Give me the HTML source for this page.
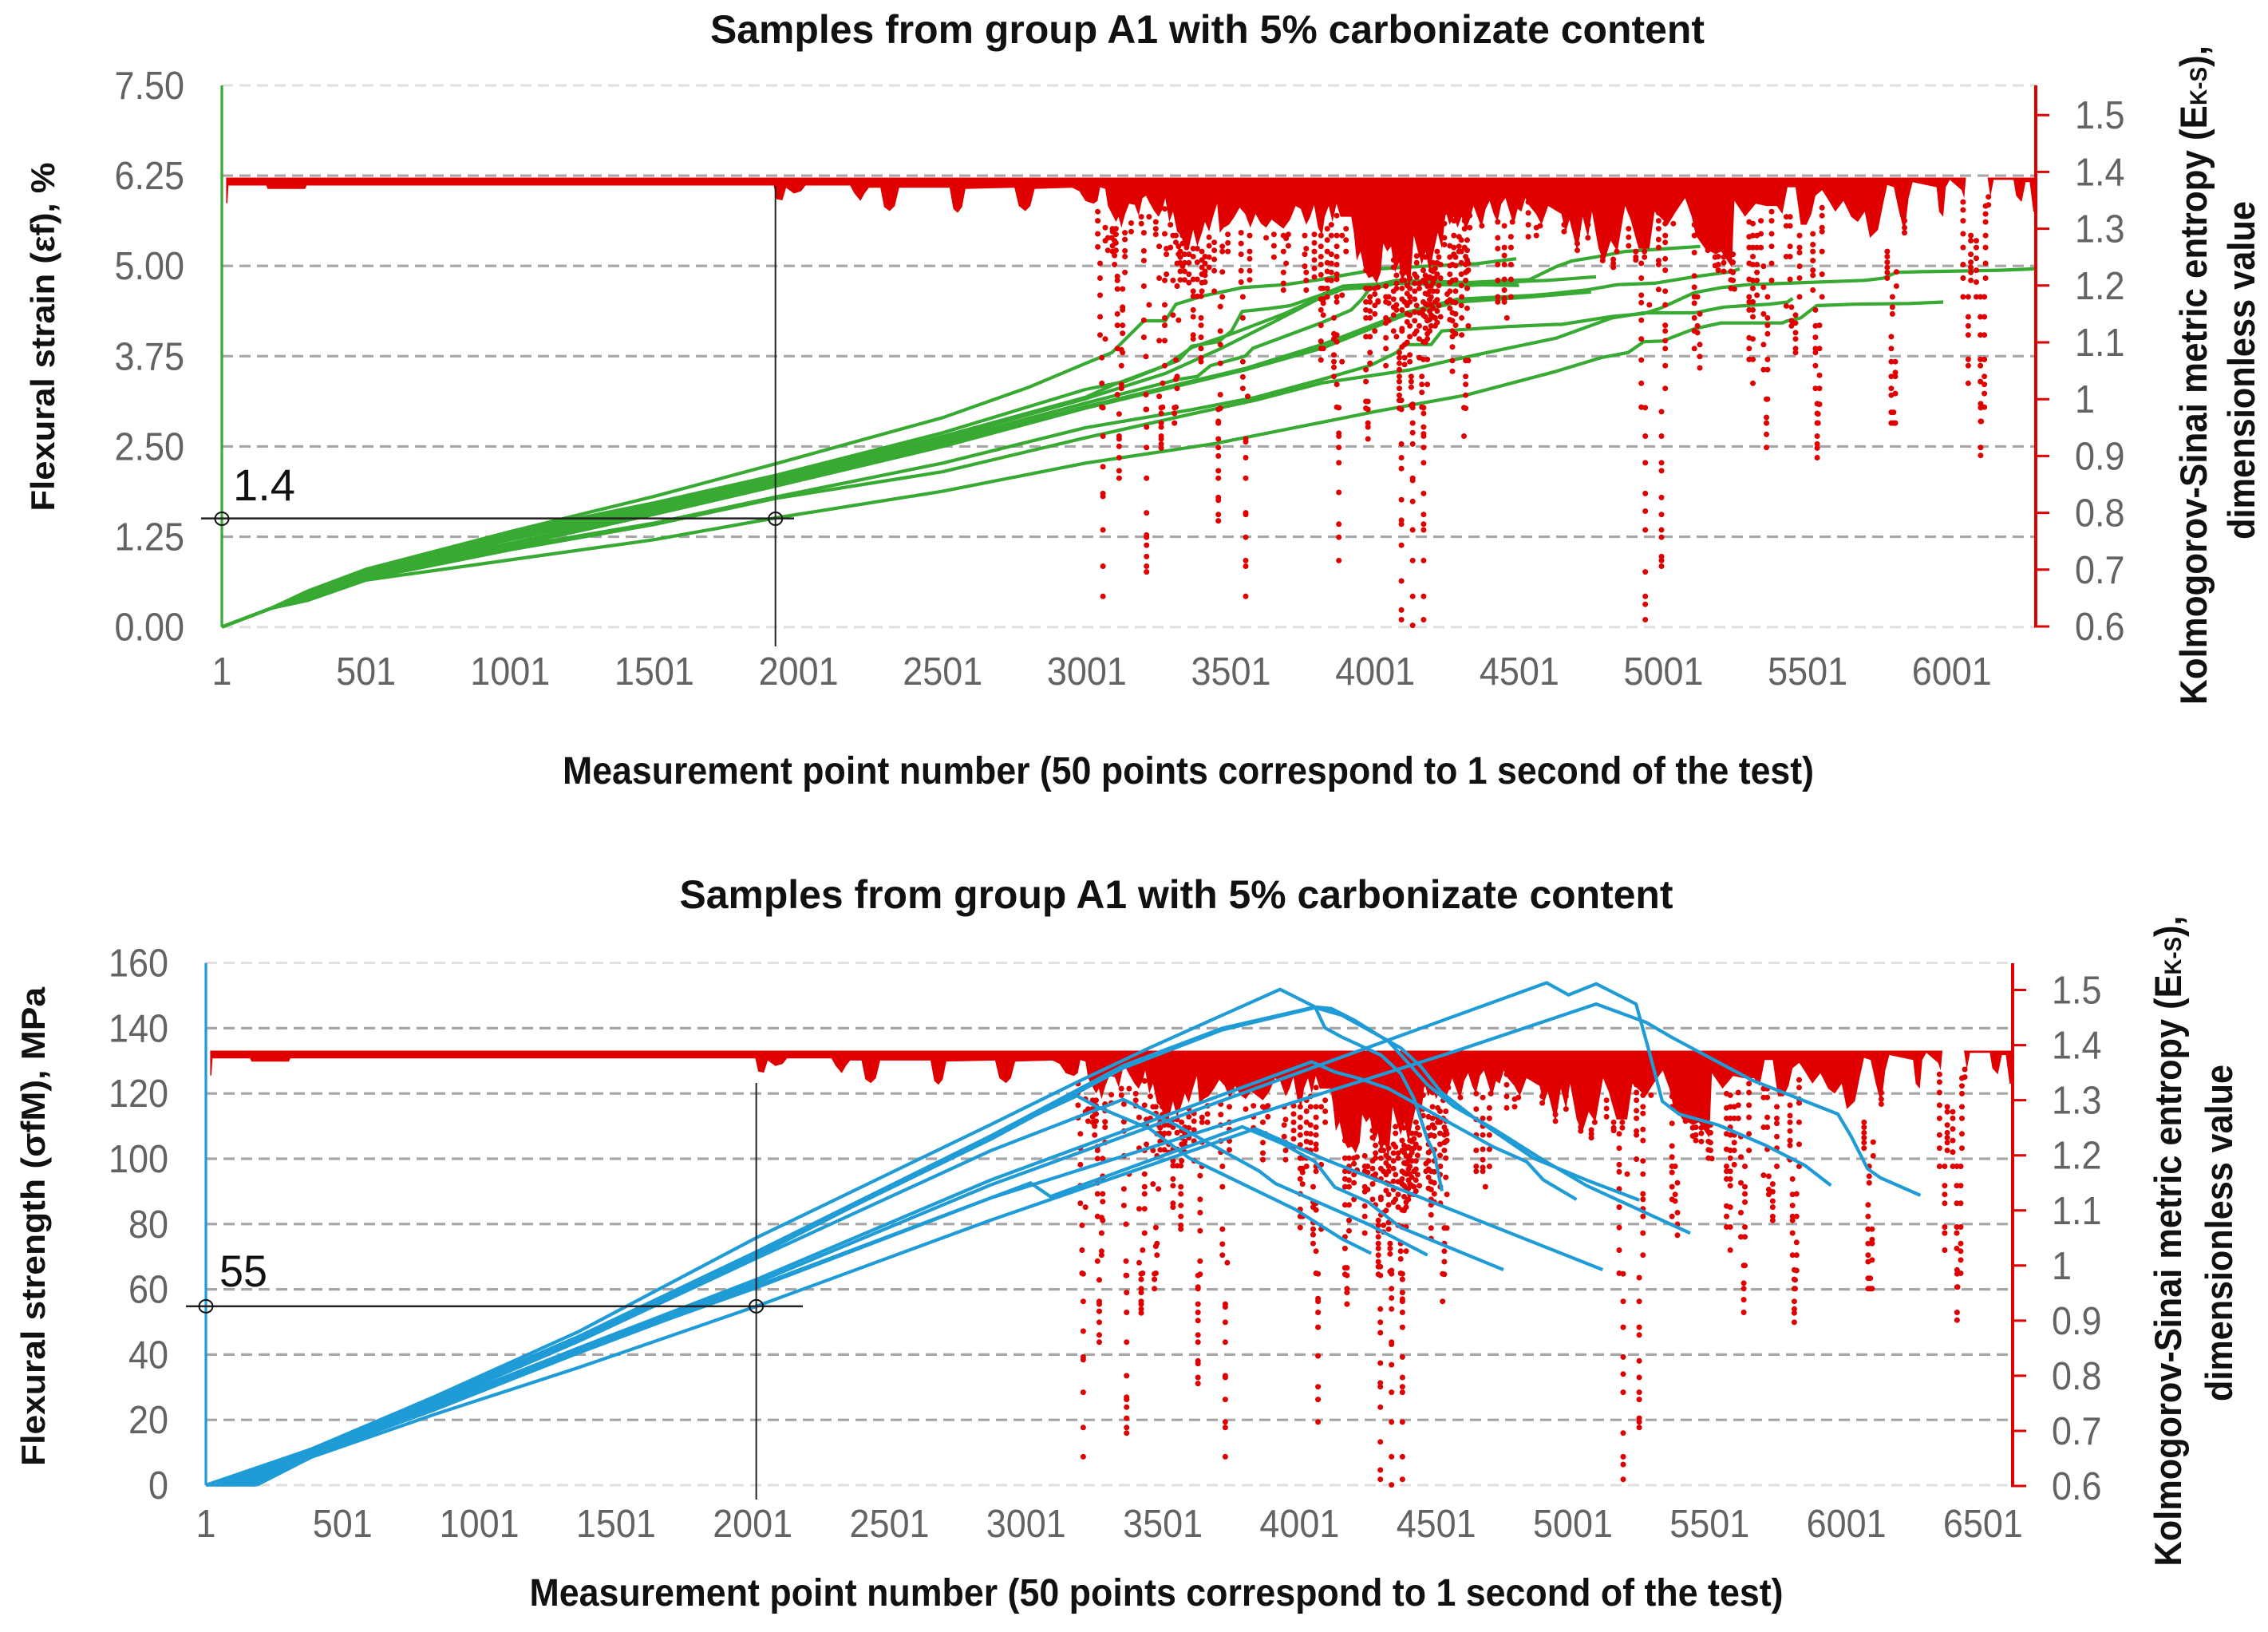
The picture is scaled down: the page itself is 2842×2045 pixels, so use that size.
<!DOCTYPE html>
<html lang="en">
<head>
<meta charset="utf-8">
<title>Samples from group A1 with 5% carbonizate content</title>
<style>
html,body{margin:0;padding:0;background:#fff;}
svg{display:block;}
text{font-family:"Liberation Sans",Arial,sans-serif;}
.title{font-weight:bold;font-size:50px;fill:#111;}
.xt{font-weight:bold;font-size:48px;fill:#111;}
.axt{font-weight:bold;font-size:42px;fill:#111;}
.axn{font-weight:bold;font-size:47px;fill:#111;}
.tick{font-size:49px;fill:#636363;}
.note{font-size:56px;fill:#111;}
</style>
</head>
<body>
<svg id="figure" xmlns="http://www.w3.org/2000/svg" width="2842" height="2045" viewBox="0 0 2842 2045">
  <rect x="0" y="0" width="2842" height="2045" fill="#fff"/>
  <g id="chartTop"></g>
  <g id="chartBottom"></g>

  <text class="title" x="1513" y="54" text-anchor="middle" textLength="1246" lengthAdjust="spacingAndGlyphs">Samples from group A1 with 5% carbonizate content</text>
  <text class="xt" x="1489" y="982" text-anchor="middle" textLength="1568" lengthAdjust="spacingAndGlyphs">Measurement point number (50 points correspond to 1 second of the test)</text>
  <text class="axt" transform="rotate(-90 68 422)" x="68" y="422" text-anchor="middle" textLength="437" lengthAdjust="spacingAndGlyphs">Flexural strain (εf), %</text>
  <text class="axn" transform="rotate(-90 2765 470)" x="2765" y="470" text-anchor="middle" textLength="826" lengthAdjust="spacingAndGlyphs">Kolmogorov-Sinai metric entropy (E<tspan font-size="30">K-S</tspan>),</text>
  <text class="axn" transform="rotate(-90 2825 464)" x="2825" y="464" text-anchor="middle" textLength="424" lengthAdjust="spacingAndGlyphs">dimensionless value</text>
  <text class="note" x="331" y="627" text-anchor="middle" textLength="78" lengthAdjust="spacingAndGlyphs">1.4</text>

  <text class="title" x="1474" y="1138" text-anchor="middle" textLength="1245" lengthAdjust="spacingAndGlyphs">Samples from group A1 with 5% carbonizate content</text>
  <text class="xt" x="1449" y="2012" text-anchor="middle" textLength="1571" lengthAdjust="spacingAndGlyphs">Measurement point number (50 points correspond to 1 second of the test)</text>
  <text class="axt" transform="rotate(-90 56 1537)" x="56" y="1537" text-anchor="middle" textLength="600" lengthAdjust="spacingAndGlyphs">Flexural strength (σfM), MPa</text>
  <text class="axn" transform="rotate(-90 2733 1555)" x="2733" y="1555" text-anchor="middle" textLength="815" lengthAdjust="spacingAndGlyphs">Kolmogorov-Sinai metric entropy (E<tspan font-size="30">K-S</tspan>),</text>
  <text class="axn" transform="rotate(-90 2797 1545)" x="2797" y="1545" text-anchor="middle" textLength="422" lengthAdjust="spacingAndGlyphs">dimensionless value</text>
  <text class="note" x="305" y="1612" text-anchor="middle" textLength="60" lengthAdjust="spacingAndGlyphs">55</text>
</svg>

<script>
/* ---------- axis tick data ---------- */
const strainTicks = [0, 1.25, 2.5, 3.75, 5, 6.25, 7.5];
const strainTickLabels = ["0.00", "1.25", "2.50", "3.75", "5.00", "6.25", "7.50"];
const strengthTicks = [0, 20, 40, 60, 80, 100, 120, 140, 160];
const strengthTickLabels = ["0", "20", "40", "60", "80", "100", "120", "140", "160"];
const entropyTicks = [0.6, 0.7, 0.8, 0.9, 1, 1.1, 1.2, 1.3, 1.4, 1.5];
const entropyTickLabels = ["0.6", "0.7", "0.8", "0.9", "1", "1.1", "1.2", "1.3", "1.4", "1.5"];
const strainPointTicks = [1, 501, 1001, 1501, 2001, 2501, 3001, 3501, 4001, 4501, 5001, 5501, 6001];
const strengthPointTicks = [1, 501, 1001, 1501, 2001, 2501, 3001, 3501, 4001, 4501, 5001, 5501, 6001, 6501];

/* ---------- reference read-offs ---------- */
const strainReference = [1, 1921, 1.5];
const strengthReference = [1, 2014, 54.8];

/* ---------- Kolmogorov-Sinai entropy: solid band (top is the 1.39 ceiling) ---------- */
const entropyCeiling = 1.39;
const bandPoints = [16,20,24,155,160,290,295,1915,1925,1945,
  1958,1985,2010,2025,2180,2195,2216,2230,2245,2285,
  2298,2317,2335,2350,2525,2538,2553,2568,2580,2750,
  2765,2788,2805,2820,2950,2975,
  2996,3024,3038,3047,3065,3074,3084,3102,3111,3121,
  3134,3148,3167,3181,3194,3206,3217,3236,3250,3264,
  3273,3287,3300,3314,3328,3342,3356,3370,3384,3397,
  3411,3425,3439,3453,3462,3476,3494,3513,3531,3550,
  3568,3586,3605,3623,3642,3660,3683,3706,3725,3743,
  3762,3776,3789,3803,3817,
  3826,3840,3853,3867,3881,3918,3927,3937,3950,3964,
  3978,3992,4006,4020,4029,4043,4056,4070,4084,4093,
  4107,4121,4135,4149,4163,4176,4190,4204,4218,4232,
  4246,4259,4273,4287,4301,4315,4329,4342,4356,4370,
  4384,4398,4412,4425,4439,4453,4467,4481,4495,4508,
  4522,4536,4559,4578,
  4601,4647,4661,4675,4702,4721,4739,4753,4776,4795,4818,4841,4868,4887,4915,4952,4970,5016,5044,5076,5099,5113,5145,5182,5201,5238,5247,5284,5321,5358,5394,5413,
  5431,5459,5477,5497,5514,5528,5551,5569,5597,5625,5652,5675,5699,5717,5745,5763,5777,5800,5818,5837,5851,5865,5911,5948,5957,5971,5980,5994,6035,6044,6050,6125,6135,6146,6215,6224,6243,6257,6271,6284,6291];
const bandFloor = [1.345,1.345,1.376,1.376,1.370,1.370,1.376,1.376,1.352,1.350,
  1.372,1.362,1.366,1.376,1.376,1.362,1.349,1.362,1.372,1.372,
  1.338,1.331,1.340,1.372,1.372,1.335,1.328,1.338,1.370,1.372,
  1.340,1.331,1.340,1.370,1.372,1.366,
  1.349,1.344,1.349,1.373,1.370,1.340,1.330,1.312,1.321,1.302,
  1.326,1.344,1.342,1.323,1.354,1.358,1.347,1.330,1.321,1.335,
  1.354,1.312,1.330,1.295,1.288,1.265,1.269,1.298,1.269,1.288,
  1.312,1.295,1.321,1.344,1.293,1.302,1.307,1.321,1.337,1.326,
  1.302,1.326,1.309,1.302,1.316,1.309,1.300,1.316,1.340,1.335,
  1.307,1.321,1.342,1.302,1.288,
  1.321,1.340,1.312,1.344,1.321,1.321,1.293,1.244,1.260,1.227,
  1.213,1.216,1.204,1.223,1.274,1.260,1.269,1.223,1.241,1.204,
  1.223,1.195,1.288,1.260,1.237,1.260,1.223,1.260,1.293,1.265,
  1.330,1.307,1.321,1.302,1.321,1.297,1.316,1.340,1.321,1.302,
  1.335,1.349,1.326,1.312,1.344,1.354,1.330,1.307,1.335,1.330,
  1.354,1.340,1.326,1.307,
  1.340,1.326,1.293,1.316,1.260,1.321,1.284,1.330,1.265,1.241,1.279,1.260,1.340,1.316,1.265,1.265,1.330,1.307,1.330,1.354,1.321,1.288,1.265,1.255,1.260,1.232,1.349,1.321,1.344,1.340,1.340,1.326,
  1.373,1.373,1.307,1.307,1.326,1.358,1.368,1.354,1.330,1.349,1.321,1.312,1.330,1.284,1.298,1.344,1.377,1.373,1.330,1.293,1.354,1.382,1.377,1.373,1.330,1.321,1.373,1.386,1.368,1.354,1.390,1.390,1.356,1.386,1.386,1.358,1.347,1.382,1.382,1.330,1.330];

/* ---------- Kolmogorov-Sinai entropy: isolated scatter, by measurement point ---------- */
const dipPoints = [3057,3113,3208,3259,3305,3457,3552,3875,3976,4092,4131,4169,4309,4938,4994,5358,5534,5799,6101,
  3039,3047,3053,3065,3074,3088,3097,3107,3121,3125,3133,3190,3199,3206,3217,3252,3264,3271,3277,3291,3300,3310,3314,3319,3333,3347,3370,3384,3397,3411,3443,3464,3471,3536,3542,3559,3566,3623,3683,3692,3757,3762,3813,
  3821,3858,3868,3849,3886,3969,3983,4011,4038,4048,4075,4085,4094,4103,4121,4126,4154,4163,4168,4182,4195,4209,4228,4251,4269,4301,4315,4324,4241,4274,4292,4311,4329,4371,4426,4449,4458,4472,4477,4532,4560,4573,
  4656,4702,4739,4790,4827,4839,4924,4952,4984,5007,5035,5108,5127,5119,5155,5191,5242,5247,5298,5311,5325,5339,5348,5362,5376,5427,
  5440,5473,5519,5551,5445,5459,5528,5542,5537,5777,5795,5809,5791,5805,5837,6040,6067,6086,6058,6118,6100,6114,6103,6128,
  3090,3102,3155,3240,3325,3340,3355,3400,3425,3490,3650,3700,3790,3835,3900,4000,4065,4112,4138,4145,4175,4190,4202,4216,4222,4260,4280,4300,4320,4880,4905,4935,5180,5210,5235];
const dipValues = [
  [.985,.935,.881,.834,.829,.77,.706,.653],
  [.974,.935,.93,.917,.897,.874,.861],
  [.982,.951,.915,.861,.80,.761,.757,.743,.723,.706,.696],
  [.985,.975,.958,.951,.935,.93,.921,.914],
  [.985,.975,.958],
  [.982,.961,.958,.93,.915,.9,.874,.861,.827,.822,.797,.786],
  [.93,.925,.897,.861,.80,.797,.757,.716,.706,.653],
  [.985,.94,.935,.915,.888,.836,.78,.757,.716],
  [.996,.982,.958,.951,.93],
  [.998,.982,.921,.897,.878,.823,.787,.78,.743,.68,.629,.612],
  [.991,.985,.958,.941,.921,.861,.857,.82,.77,.716,.653,.602],
  [.985,.975,.951,.939,.935,.915,.888,.834,.797,.78,.77,.716,.653,.612],
  [.985,.935],
  [.985,.935,.888,.834,.803,.77,.696,.653,.639,.612],
  [.978,.935,.888,.874,.827,.797,.77,.757,.723,.716,.706],
  [1.0,.968,.958,.938,.915],
  [.992,.975,.958,.935,.921,.914,.897],
  [.977,.958],
  [.992,.985,.961,.915,.901],
  [1.330,1.314,1.291,1.268],
  [1.239,1.213,1.183,1.145,1.113],
  [1.073,1.028,.986],
  [1.302,1.279,1.106],
  [1.284,1.262],
  [1.284],
  [1.279,1.253,1.237],
  [1.216,1.209,1.194,1.150,1.130,1.089,1.008],
  [1.087,1.059,1.026,1.019],
  [1.194,1.162,1.157,1.130,1.116,1.082],
  [1.293,1.281,1.261,1.251,1.223],
  [1.321,1.309],
  [1.293,1.261,1.244,1.199,1.139,1.109],
  [1.075,1.008,.982],
  [1.321,1.166],
  [1.269,1.213,1.103,1.005],
  [1.028,.986],
  [1.335,1.291,1.209,1.166,1.143,1.130,1.103,1.059],
  [1.265,1.255,1.220],
  [1.267,1.307],
  [1.288,1.209,1.148],
  [1.288,1.276,1.069,1.035,.986],
  [1.239,1.199,1.040,1.019],
  [1.269,1.255,1.139],
  [1.288,1.274,1.234],
  [1.293,1.279,1.267],
  [1.265,1.251,1.211,1.190,1.181,1.157,1.145,1.113,1.106],
  [1.265,1.241,1.211,1.181],
  [1.181,1.143,1.130,1.109,1.089,1.073,1.066],
  [1.251,1.239,1.225,1.218,1.206],
  [1.276,1.262,1.246,1.226,1.190],
  [1.163,1.120,1.096,1.063,1.008,.984],
  [1.269,1.260,1.224,1.180],
  [1.293,1.274,1.255,1.226,1.206],
  [1.180,1.143,1.066,1.039,1.019],
  [1.005],
  [1.288,1.260,1.247,1.226,1.210],
  [1.284],
  [1.288,1.260,1.223,1.204,1.192],
  [1.283,1.239],
  [1.288,1.255,1.234],
  [1.265,1.223,1.209,1.192],
  [1.288,1.269,1.251,1.237,1.219,1.195,1.176,1.157,1.130,1.102,1.089,1.069],
  [1.195,1.176,1.169,1.148,1.089],
  [1.143,1.115,1.106,1.078,1.066,1.056,1.040],
  [1.323,1.288,1.269,1.251,1.237,1.220,1.211,1.180,1.171,1.113,1.101,1.026,.986],
  [1.307,1.288,1.255,1.239,1.223,1.209],
  [1.288,1.183,1.066],
  [1.227,1.195,1.171,1.157,1.143,1.110,1.052,1.031,.996,.984],
  [1.195,1.180,1.171,1.155,1.143,1.110,1.082,1.063],
  [1.197,1.173,1.171],
  [1.199,1.180,1.171,1.143,1.134,1.108,1.089,1.059],
  [1.180,1.169,1.138],
  [1.218,1.204,1.195,1.166,1.157,1.110],
  [1.082,1.073,1.063,1.052,1.040,1.031,1.019,1.007,.998,.984],
  [1.223,1.209,1.195,1.176,1.157,1.124,1.120,1.092],
  [1.223,1.209,1.171,1.096,1.073,1.061],
  [1.213,1.195,1.180,1.171,1.148,1.129,1.110,1.078,1.066],
  [1.040,1.031,1.021,.989],
  [1.204,1.195,1.152,1.129,1.106,1.073],
  [1.040,1.026,1.012,.986],
  [1.227,1.209,1.171,1.157,1.148,1.101,1.070],
  [1.213,1.199,1.185,1.166,1.138,1.115,1.106,1.070,1.026],
  [1.227,1.213,1.199,1.180,1.166,1.148,1.129],
  [1.230,1.213,1.171,1.143,1.129],
  [1.237,1.213,1.145],
  [1.185,1.171],
  [1.237,1.209,1.171,1.152,1.138,1.120,1.110,1.092,1.068,1.049],
  [1.180,1.143,1.113],
  [1.251,1.237,1.223,1.209,1.068,1.040,1.026,1.007,.984],
  [1.239,1.227,1.129,1.068],
  [1.328,1.309,1.284,1.272],
  [1.314,1.288,1.267,1.255],
  [1.286,1.269,1.260],
  [1.314,1.300,1.267],
  [1.323,1.302],
  [1.330,1.305],
  [1.312,1.284,1.265,1.237,1.209,1.180,1.171],
  [1.305,1.267,1.253,1.237,1.211,1.192,1.178,1.171],
  [1.143],
  [1.286,1.267,1.237,1.211,1.180],
  [1.312],
  [1.361,1.347,1.328,1.307,1.286],
  [1.370,1.302,1.288],
  [1.323,1.305],
  [1.307,1.295],
  [1.288,1.274,1.262],
  [1.307,1.284],
  [1.251,1.244],
  [1.246,1.239,1.232],
  [1.293,1.260],
  [1.239,1.213,1.183,1.170,1.139,1.106,1.069,1.028,.986],
  [1.166],
  [1.328,1.314,1.300,1.281,1.267,1.244,1.237,1.193],
  [1.309,1.288,1.276,1.247,1.227,1.190,1.166,1.130,1.120,1.103,1.089,1.059,1.019],
  [1.309],
  [1.307,1.288,1.258,1.217,1.197,1.180,1.169,1.143,1.120,1.089],
  [1.150,1.096,1.075,1.055],
  [1.180,1.129,1.117],
  [1.288,1.262],
  [1.251,1.237,1.227],
  [1.255,1.241,1.223,1.209],
  [1.194],
  [1.312,1.286,1.267,1.239,1.211,1.180,1.171,1.157,1.108,1.089,1.070],
  [1.309,1.288,1.267,1.251,1.237,1.209,1.195,1.171,1.157,1.145,1.106,1.070,1.028],
  [1.288,1.267,1.237,1.223,1.209,1.183],
  [1.314,1.291,1.267],
  [1.234,1.197,1.150,1.096,1.052],
  [1.180,1.143,1.130,1.115,1.070,1.052,1.000],
  [1.330,1.314,1.291,1.269,1.239,1.209],
  [1.321,1.305,1.251,1.164],
  [1.321,1.305,1.269,1.251,1.211],
  [1.288,1.267,1.258,1.234,1.213,1.180],
  [1.291,1.272,1.260,1.244,1.227,1.218,1.192],
  [1.337,1.323,1.302,1.295,1.260,1.220,1.180],
  [1.162,1.138,1.129],
  [1.148,1.134,1.117,1.106,1.089,1.082],
  [1.157,1.129,1.109,1.089,1.082,1.059,1.019],
  [1.130,1.089,1.042,1.019,.991],
  [.974,.958],
  [1.260,1.251,1.241,1.232,1.223,1.213],
  [1.180,1.162,1.150],
  [1.224,1.199],
  [1.110,1.089,1.066,1.040,1.019,1.007,.977,.958],
  [1.066,1.047,1.040,1.010,.958],
  [1.358,1.335,1.314,1.302,1.293],
  [1.347,1.333,1.314,1.291,1.267,1.237,1.213,1.180],
  [1.288,1.279,1.255,1.241,1.232,1.223,1.209],
  [1.279,1.267,1.248,1.227,1.206,1.180],
  [1.180,1.145,1.129,1.113,1.070,1.059,1.028],
  [1.340,1.326,1.312,1.288,1.267,1.239,1.213],
  [1.180,1.145,1.113,1.070,1.059,1.031],
  [1.180,1.145,1.113,1.070,1.040,1.026,1.010,.986],
  [.961],
  [1.356,1.342],
  [1.30,1.295,1.27,1.26],
  [1.30,1.29,1.275,1.262],
  [1.31,1.295],
  [1.312,1.30,1.29],
  [1.26,1.25,1.24,1.225,1.21],
  [1.255,1.24,1.225,1.21],
  [1.255,1.24,1.22,1.205],
  [1.26,1.245,1.232,1.22,1.205,1.19],
  [1.285,1.27,1.25,1.232],
  [1.29,1.275,1.26],
  [1.29,1.27,1.25],
  [1.29,1.27],
  [1.29,1.275,1.26,1.245,1.23,1.215],
  [1.30,1.28,1.26,1.24,1.225,1.21,1.195,1.18],
  [1.30,1.28,1.26],
  [1.195,1.185,1.165,1.15,1.12],
  [1.245,1.232,1.19,1.176,1.162,1.148,1.12],
  [1.20,1.186,1.165,1.15,1.136,1.10],
  [1.22,1.204,1.19,1.176,1.153,1.138,1.115],
  [1.252,1.24,1.215,1.165,1.12],
  [1.25,1.218,1.205,1.186,1.168,1.145,1.125,1.10],
  [1.215,1.19,1.175,1.155,1.14,1.12],
  [1.24,1.225,1.205,1.19,1.16,1.145],
  [1.26,1.24,1.22,1.19,1.175,1.155,1.135],
  [1.25,1.2,1.165],
  [1.27,1.25,1.235,1.22,1.205,1.19,1.175,1.16,1.14],
  [1.25,1.235,1.21,1.19,1.17,1.15,1.13,1.115],
  [1.28,1.26,1.24,1.22,1.2,1.165],
  [1.28,1.262,1.245,1.225,1.195,1.16],
  [1.30,1.285,1.27],
  [1.26,1.25,1.245],
  [1.26,1.25],
  [1.25,1.235],
  [1.25,1.24,1.225],
  [1.225,1.21,1.195]
];

/* ---------- flexural strain series (%) by measurement point ---------- */
const strainPoints = [
  [1,172,300,501,1001,1501,1921,2501,2800,2996,3088,3116,3199,3273,3310,3411,3540,3688,3808,3890,4020,4195,4352,4490],
  [1,172,300,501,1001,1501,1921,2501,2996,3097,3319,3365,3457,3503,3540,3633,3706,3808,3890,4020,4075,4324,4536,4629,4684,4776,4868,5016,5128],
  [1,172,300,501,1001,1501,1921,2501,2996,3134,3273,3365,3503,3688,3812,3890,4020,4075,4324,4536,4601,4767],
  [1,172,300,501,1001,1501,1921,2501,2996,3273,3457,3642,3812,3890,4020,4075,4324,4495],
  [1,172,300,501,1001,1501,1921,2501,2996,3319,3384,3430,3550,3577,3813,3918,3955,3983,4056,4324,4500],
  [1,172,300,501,1001,1501,1921,2501,2996,3319,3550,3817,4103,4287,4536,4601,4739,4841,4970,5108,5238,5265],
  [1,172,300,501,1001,1501,1921,2501,2996,3319,3550,3817,4110,4287,4536,4750],
  [1,172,300,501,1001,1501,1921,2501,2996,3365,3586,3817,3983,4075,4103,4195,4232,4463,4629,4647,4822,4933,4988,5108,5201,5293,5431,5699,5763,5809,5901,6169,6293],
  [1,172,300,501,1001,1501,1921,2501,2996,3365,3586,3817,4121,4260,4389,4629,4822,4933,5108,5210,5284,5367,5431,5449],
  [1,172,300,501,1001,1501,1921,2501,2996,3446,4011,4315,4629,4785,4878,4933,4998,5108,5201,5413,5431,5477,5532,5662,5855,5971]
];
const strainValues = [
  [0,.26,.50,.80,1.32,1.81,2.26,2.90,3.32,3.65,3.80,3.91,4.24,4.24,4.47,4.59,4.70,4.74,4.81,4.87,4.96,5.00,5.03,5.10],
  [0,.26,.48,.78,1.29,1.69,2.07,2.64,3.18,3.36,3.69,3.89,3.95,4.10,4.37,4.41,4.45,4.59,4.72,4.75,4.80,4.77,4.81,4.99,5.07,5.13,5.20,5.24,5.27],
  [0,.26,.49,.79,1.31,1.72,2.10,2.69,3.29,3.40,3.62,3.87,4.06,4.34,4.57,4.70,4.73,4.78,4.75,4.79,4.80,4.85],
  [0,.26,.46,.76,1.25,1.66,2.04,2.61,3.16,3.51,3.84,4.21,4.56,4.68,4.71,4.76,4.73,4.76],
  [0,.26,.45,.74,1.21,1.63,2.01,2.57,3.10,3.43,3.47,3.62,3.75,3.86,4.21,4.39,4.54,4.69,4.76,4.74,4.73],
  [0,.26,.43,.72,1.16,1.59,1.98,2.53,3.05,3.36,3.58,3.91,4.35,4.54,4.59,4.61,4.67,4.74,4.76,4.85,4.92,4.96],
  [0,.26,.42,.70,1.12,1.56,1.95,2.50,3.03,3.34,3.56,3.86,4.33,4.50,4.57,4.64],
  [0,.26,.40,.68,1.10,1.44,1.80,2.27,2.76,3.01,3.18,3.43,3.62,3.80,3.91,3.91,4.10,4.16,4.19,4.19,4.30,4.34,4.41,4.63,4.70,4.74,4.76,4.80,4.83,4.91,4.92,4.94,4.96],
  [0,.26,.39,.67,1.07,1.42,1.78,2.15,2.62,2.95,3.14,3.38,3.56,3.69,3.80,4.00,4.28,4.35,4.35,4.43,4.45,4.47,4.50,4.55],
  [0,.26,.37,.65,.93,1.21,1.51,1.88,2.27,2.54,2.99,3.21,3.54,3.73,3.80,3.95,3.96,4.13,4.21,4.21,4.24,4.28,4.45,4.47,4.48,4.50]
];

/* ---------- flexural strength series (MPa) by measurement point ---------- */
const strengthPoints = [
  [1,385,834,1363,2014,2872,3188,3453,3719,3930,4058,4094,4155,4300,4372,4421,4469,4493,4522],
  [40,385,834,1363,2014,2872,3356,3719,4058,4118,4203,4300,4372,4445,4518,4639,4856,5050,5244],
  [60,385,834,1363,2014,2872,3356,3719,4058,4155,4324,4385,4469,4566,4711,4881,5050,5430],
  [80,385,834,1363,2014,2872,3187,3259,3453,3598,3985,4155,4263],
  [100,385,834,1363,2014,2872,3356,3550,3671,3852,3913,4251,4469],
  [120,385,834,1363,2014,2872,4046,4130,4215,4324,4445,4566,4711,4832,4893,5014],
  [140,385,834,1363,2014,2872,4324,4905,4985,5086,5232,5280,5328,5389,5534,5703,5849,5945],
  [160,385,834,1363,2014,2872,4566,5086,5268,5365,5510,5655,5970,6018,6079,6127,6272],
  [170,385,834,1363,2014,3017,3090,3792,3937,4058,4130,4251,4372,4747],
  [186,385,834,1363,2014,2872,3840,4082,4469,5110]
];
const strengthValues = [
  [0,11,27,47,75.8,110.5,123.5,134,144,151.9,146.5,140.1,137.3,131.7,126.1,118.2,105.9,101.9,90.1],
  [0,11,26.5,45.5,71.5,107,128.5,140,146.5,146,142.4,137.3,133.9,128.3,120.5,112.6,100.2,93.5,87.3],
  [0,10.8,26,45,71,106,127.8,139.5,146.3,144,136.2,130.6,122.7,116,109.2,100.2,91.8,77.2],
  [0,10.5,25.5,44.5,70.3,107,119.3,116,109.2,100.2,84.5,75.5,71],
  [0,10.2,25,44,69.5,102.5,118.2,110.3,104.7,96.3,92.4,80,70.5],
  [0,10,24.5,42,63,93.5,129.7,126.6,124.7,121.6,116,110.3,103.6,99.1,93.5,87.5],
  [0,9.8,24,41.5,62,92,136.3,153.9,150.2,153.6,147.4,132.8,117.6,113.7,110.3,104.2,98,91.8],
  [0,9.5,23.5,41,60.5,88,132.8,147.4,141.8,137.1,130.6,124.1,113.7,107,96.9,94.1,88.8],
  [0,9.2,23,40.5,61,92.6,88.4,109.8,104.7,99.1,91.3,86.8,78.9,66],
  [0,8.5,21.6,36,54.8,81.2,109.2,100.2,87.3,66]
];

/* ---------- axis functions ---------- */
const NS = "http://www.w3.org/2000/svg";
const RED = "#e00000", GREEN = "#38aa33", BLUE = "#1f9bd6";
const topPointX = p => 278 + (p - 1) * 0.3613;
const topEntropyX = p => topPointX(p);
const topStrainY = v => 785.7 - v * 90.5;
const topEntropyY = e => 785 - (e - 0.6) * 712;
const botPointX = p => 258 + (p - 1) * 0.3426;
const botEntropyX = p => botPointX(p * 1.05);
const botStrengthY = v => 1861 - v * 4.09;
const botEntropyY = e => 1862 - (e - 0.6) * 690.5;

function make(tag, parent) {
  const el = document.createElementNS(NS, tag);
  parent.appendChild(el);
  return el;
}
function lineSeg(parent, x1, y1, x2, y2, color, width, dash) {
  const el = make("line", parent);
  el.setAttribute("x1", x1);
  el.setAttribute("y1", y1);
  el.setAttribute("x2", x2);
  el.setAttribute("y2", y2);
  el.setAttribute("stroke", color);
  el.setAttribute("stroke-width", width);
  if (dash) el.setAttribute("stroke-dasharray", dash);
  
  return el;
}
function tickText(parent, x, y, str, anchor) {
  const el = make("text", parent);
  el.setAttribute("class", "tick");
  el.setAttribute("x", x);
  el.setAttribute("y", y);
  el.setAttribute("text-anchor", anchor);
  const dots = str.split(".").length - 1;
  el.setAttribute("textLength", (str.length - dots) * 25 + dots * 12.5);
  el.setAttribute("lengthAdjust", "spacingAndGlyphs");
  el.textContent = str;
  
  return el;
}
function polyline(parent, xs, ys, xf, yf, color, width) {
  const el = make("path", parent);
  let d = "";
  for (let i = 0; i < xs.length; i++) d += (i ? "L" : "M") + xf(xs[i]).toFixed(1) + " " + yf(ys[i]).toFixed(1);
  el.setAttribute("d", d);
  el.setAttribute("fill", "none");
  el.setAttribute("stroke", color);
  el.setAttribute("stroke-width", width);
  el.setAttribute("stroke-linejoin", "round");
  
  return el;
}
function drawEntropy(parent, xf, yf) {
  const band = make("path", parent);
  let d = "M" + xf(bandPoints[0]).toFixed(1) + " " + yf(entropyCeiling).toFixed(1);
  for (let i = 0; i < bandPoints.length; i++) d += "L" + xf(bandPoints[i]).toFixed(1) + " " + yf(bandFloor[i]).toFixed(1);
  d += "L" + xf(bandPoints[bandPoints.length - 1]).toFixed(1) + " " + yf(entropyCeiling).toFixed(1) + "Z";
  band.setAttribute("d", d);
  band.setAttribute("fill", RED);
  
  
  for (let c = 0; c < dipPoints.length; c++) {
    for (let k = 0; k < dipValues[c].length; k++) {
      const dot = make("circle", parent);
      dot.setAttribute("cx", xf(dipPoints[c]).toFixed(1));
      dot.setAttribute("cy", yf(dipValues[c][k]).toFixed(1));
      dot.setAttribute("r", "3.5");
      dot.setAttribute("fill", RED);
      
      
    }
  }
}
function drawCircle(parent, cx, cy) {
  const el = make("ellipse", parent);
  el.setAttribute("cx", cx);
  el.setAttribute("cy", cy);
  el.setAttribute("rx", "8.5");
  el.setAttribute("ry", "8");
  el.setAttribute("fill", "none");
  el.setAttribute("stroke", "#111");
  el.setAttribute("stroke-width", "2");
  
  
}

/* ---------- generic chart ---------- */
function drawGrid(g, ticks, labels, yf, left, right, labelX) {
  for (let i = 0; i < ticks.length; i++) {
    const y = yf(ticks[i]);
    const edge = i === 0 || i === ticks.length - 1;
    const ln = lineSeg(g, left, y, right, y, edge ? "#e0e0e0" : "#a6a6a6", edge ? 3 : 3.2, "14 8");
    
    const t = tickText(g, labelX, y + 17, labels[i], "end");
    
  }
}
function drawRightAxis(g, xAxis, yf, yTop, yBottom) {
  const ax = lineSeg(g, xAxis, yTop, xAxis, yBottom + 1.5, RED, 4);
  
  for (let i = 0; i < entropyTicks.length; i++) {
    const y = yf(entropyTicks[i]);
    const tk = lineSeg(g, xAxis, y, xAxis + 17, y, RED, 3);
    
    const t = tickText(g, xAxis + 49, y + 17, entropyTickLabels[i], "start");
    
  }
}
function drawXTicks(g, pts, xf, y) {
  for (let i = 0; i < pts.length; i++) {
    const t = tickText(g, xf(pts[i]), y, String(pts[i]), "middle");
    
  }
}

/* ---------- top chart ---------- */
const gTop = document.getElementById("chartTop");
drawGrid(gTop, strainTicks, strainTickLabels, topStrainY, 278, 2551, 231);
drawXTicks(gTop, strainPointTicks, topPointX, 858);
const strainAxisLine = lineSeg(gTop, topPointX(1), topStrainY(0), topPointX(1), topStrainY(7.5), GREEN, 3.2);

for (let s = 0; s < strainPoints.length; s++) {
  const p = polyline(gTop, strainPoints[s], strainValues[s], topPointX, topStrainY, GREEN, 4.2);
  
}
drawEntropy(gTop, topEntropyX, topEntropyY);
drawRightAxis(gTop, 2551, topEntropyY, 107, 785);
const topH = lineSeg(gTop, 252, topStrainY(strainReference[2]) - 0.3, 995, topStrainY(strainReference[2]) - 0.3, "#222", 2.5);

const topV = lineSeg(gTop, topPointX(strainReference[1]), 233, topPointX(strainReference[1]), 810, "#222", 2);

drawCircle(gTop, topPointX(strainReference[0]), topStrainY(strainReference[2]));
drawCircle(gTop, topPointX(strainReference[1]), topStrainY(strainReference[2]));

/* ---------- bottom chart ---------- */
const gBot = document.getElementById("chartBottom");
drawGrid(gBot, strengthTicks, strengthTickLabels, botStrengthY, 258, 2522, 211);
drawXTicks(gBot, strengthPointTicks, botPointX, 1926);
const strengthAxisLine = lineSeg(gBot, botPointX(1), botStrengthY(0), botPointX(1), botStrengthY(160), BLUE, 3.2);

drawEntropy(gBot, botEntropyX, botEntropyY);
const botFlat = lineSeg(gBot, botPointX(1), botStrengthY(0), botPointX(186), botStrengthY(0), BLUE, 3.4);

for (let s = 0; s < strengthPoints.length; s++) {
  const p = polyline(gBot, strengthPoints[s], strengthValues[s], botPointX, botStrengthY, BLUE, 4.2);
  
}
drawRightAxis(gBot, 2522, botEntropyY, 1207, 1862);
const botH = lineSeg(gBot, 233, botStrengthY(strengthReference[2]), 1006, botStrengthY(strengthReference[2]), "#222", 2.5);

const botV = lineSeg(gBot, botPointX(strengthReference[1]), 1357, botPointX(strengthReference[1]), 1879, "#222", 2);

drawCircle(gBot, botPointX(strengthReference[0]), botStrengthY(strengthReference[2]));
drawCircle(gBot, botPointX(strengthReference[1]), botStrengthY(strengthReference[2]));
</script>
</body>
</html>
